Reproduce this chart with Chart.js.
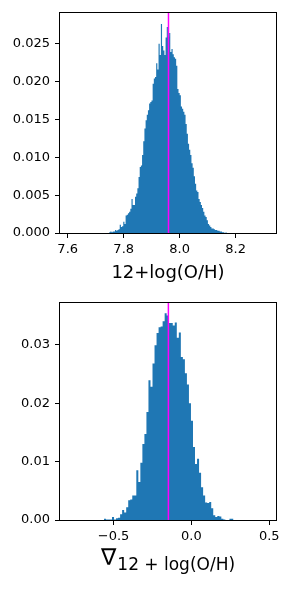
<!DOCTYPE html>
<html>
<head>
<meta charset="utf-8">
<script src="https://cdn.jsdelivr.net/npm/chart.js@4.4.0/dist/chart.umd.min.js"></script>
<style>
  html, body { margin: 0; padding: 0; background: #fff; }
  canvas { display: block; }
</style>
</head>
<body>
<canvas id="ohChart" width="290" height="290"></canvas>
<canvas id="gradChart" width="290" height="300"></canvas>
<script>
// top panel: 12+log(O/H), 100 bins
const ohBinStart = 7.748;
const ohBinWidth = 0.0042;
const ohDensity = [
  0.0001, 0.0002, 0.0001, 0.0002, 0.0002, 0.0004, 0.0003, 0.0004, 0.0005, 0.0011,
  0.0008, 0.0009, 0.0015, 0.0012, 0.0023, 0.0024, 0.0026, 0.0028, 0.0032, 0.0045,
  0.0037, 0.0037, 0.0048, 0.0052, 0.0059, 0.0074, 0.0087, 0.0089, 0.0103, 0.0121,
  0.0138, 0.0149, 0.0156, 0.0162, 0.0171, 0.0173, 0.0175, 0.0197, 0.0204, 0.0206,
  0.0224, 0.0216, 0.0250, 0.0235, 0.0276, 0.0247, 0.0241, 0.0235, 0.0258, 0.0272,
  0.0259, 0.0264, 0.0239, 0.0243, 0.0236, 0.0232, 0.0230, 0.0221, 0.0190, 0.0185,
  0.0182, 0.0167, 0.0164, 0.0160, 0.0156, 0.0144, 0.0131, 0.0118, 0.0110, 0.0103,
  0.0092, 0.0086, 0.0075, 0.0065, 0.0056, 0.0054, 0.0045, 0.0041, 0.0037, 0.0033,
  0.0028, 0.0023, 0.0021, 0.0017, 0.0012, 0.0010, 0.0008, 0.0006, 0.0006, 0.0005,
  0.0004, 0.0004, 0.0003, 0.0003, 0.0002, 0.0002, 0.0001, 0.0001, 0.0000, 0.0001
];
const ohMedian = 7.96;
const ohXTicks = [7.6, 7.8, 8.0, 8.2];
const ohYTicks = [0, 0.005, 0.01, 0.015, 0.02, 0.025];

// bottom panel: gradient
const gradBinStart = -0.562;
const gradBinWidth = 0.013;
const gradDensity = [
  0.0002, 0.0001, 0.0001, 0.0001, 0.0005, 0.0001, 0.0003, 0.0004, 0.0010, 0.0017,
  0.0013, 0.0022, 0.0034, 0.0035, 0.0042, 0.0042, 0.0085, 0.0065, 0.0098, 0.0130,
  0.0147, 0.0185, 0.0239, 0.0228, 0.0268, 0.0299, 0.0320, 0.0330, 0.0331, 0.0340,
  0.0354, 0.0350, 0.0337, 0.0337, 0.0333, 0.0338, 0.0312, 0.0321, 0.0279, 0.0275,
  0.0251, 0.0232, 0.0200, 0.0170, 0.0125, 0.0096, 0.0105, 0.0081, 0.0056, 0.0042,
  0.0030, 0.0029, 0.0031, 0.0020, 0.0008, 0.0005, 0.0007, 0.0006, 0.0002, 0.0001,
  0.0000, 0.0000, 0.0002, 0.0002
];
const gradMedian = -0.148;
const gradXTicks = [-0.5, 0, 0.5];
const gradYTicks = [0, 0.01, 0.02, 0.03];
const gradSymbol = '\u2207';
const gradSubscript = '12 + log(O/H)';

const tickFont = { family: 'DejaVu Sans', size: 13 };

// box around the axes like matplotlib spines
const frame = {
  id: 'frame',
  afterDatasetsDraw(chart) {
    const a = chart.chartArea, c = chart.ctx;
    c.save();
    c.strokeStyle = '#000';
    c.lineWidth = 1;
    c.strokeRect(Math.round(a.left) - 0.5, Math.round(a.top) - 0.5,
      Math.round(a.right - a.left) + 1, Math.round(a.bottom - a.top) + 1);
    c.restore();
  }
};

// nabla with subscript, drawn under the lower axis
const gradTitle = {
  id: 'gradTitle',
  afterDraw(chart) {
    const c = chart.ctx, a = chart.chartArea;
    c.save();
    c.fillStyle = '#000';
    c.textBaseline = 'alphabetic';
    c.font = '23px "DejaVu Sans"';
    const wN = c.measureText(gradSymbol).width;
    c.font = '17px "DejaVu Sans"';
    const wS = c.measureText(gradSubscript).width;
    const x0 = (a.left + a.right) / 2 - (wN + 1 + wS) / 2;
    c.font = '23px "DejaVu Sans"';
    c.fillText(gradSymbol, x0, a.bottom + 45);
    c.font = '17px "DejaVu Sans"';
    c.fillText(gradSubscript, x0 + wN + 1, a.bottom + 49.5);
    c.restore();
  }
};

function histogram(id, cfg) {
  // step outline: one point per bin centre, plus the two outer edges
  const n = cfg.density.length;
  const pts = [{ x: cfg.binStart, y: cfg.density[0] }];
  cfg.density.forEach((d, i) => pts.push({ x: cfg.binStart + (i + 0.5) * cfg.binWidth, y: d }));
  pts.push({ x: cfg.binStart + n * cfg.binWidth, y: cfg.density[n - 1] });

  return new Chart(document.getElementById(id), {
    type: 'line',
    data: {
      datasets: [
        {
          data: [{ x: cfg.median, y: 0 }, { x: cfg.median, y: cfg.yMax }],
          borderColor: '#ff00ff',
          borderWidth: 1.5,
          pointRadius: 0,
          fill: false,
          order: 0
        },
        {
          data: pts,
          stepped: 'middle',
          borderWidth: 0,
          borderColor: 'rgba(0,0,0,0)',
          backgroundColor: '#1f77b4',
          fill: 'origin',
          pointRadius: 0,
          order: 1
        }
      ]
    },
    options: {
      responsive: false,
      animation: false,
      layout: { padding: cfg.padding },
      plugins: { legend: { display: false }, tooltip: { enabled: false } },
      scales: {
        x: {
          type: 'linear',
          min: cfg.xMin,
          max: cfg.xMax,
          offset: false,
          border: { display: false },
          grid: { display: true, drawOnChartArea: false, drawTicks: true, tickLength: 5, color: '#000' },
          ticks: { font: tickFont, color: '#000', padding: 4, autoSkip: false, maxRotation: 0, callback: cfg.xFmt },
          title: cfg.xTitle,
          afterBuildTicks: s => { s.ticks = cfg.xTicks.map(v => ({ value: v })); },
          afterFit: s => { s.height = cfg.xAxisHeight; }
        },
        y: {
          min: 0,
          max: cfg.yMax,
          border: { display: false },
          grid: { display: true, drawOnChartArea: false, drawTicks: true, tickLength: 5, color: '#000' },
          ticks: { font: tickFont, color: '#000', padding: 5, autoSkip: false, callback: cfg.yFmt },
          afterBuildTicks: s => { s.ticks = cfg.yTicks.map(v => ({ value: v })); },
          afterFit: s => { s.width = 60; }
        }
      }
    },
    plugins: [frame].concat(cfg.extra || [])
  });
}

histogram('ohChart', {
  density: ohDensity, binStart: ohBinStart, binWidth: ohBinWidth, median: ohMedian,
  xMin: 7.5725, xMax: 8.344, yMax: 0.02905,
  xTicks: ohXTicks, yTicks: ohYTicks,
  xFmt: v => v.toFixed(1),
  yFmt: v => v.toFixed(3),
  padding: { top: 13, right: 14, left: 0, bottom: 0 },
  xAxisHeight: 57,
  xTitle: { display: true, text: '12+log(O/H)', color: '#000', font: { family: 'DejaVu Sans', size: 18 }, padding: { top: 0, bottom: 6 } }
});

histogram('gradChart', {
  density: gradDensity, binStart: gradBinStart, binWidth: gradBinWidth, median: gradMedian,
  xMin: -0.844, xMax: 0.543, yMax: 0.03717,
  xTicks: gradXTicks, yTicks: gradYTicks,
  xFmt: v => (v < 0 ? '\u2212' : '') + Math.abs(v).toFixed(1),
  yFmt: v => v.toFixed(2),
  padding: { top: 10, right: 14, left: 0, bottom: 0 },
  xAxisHeight: 70,
  xTitle: { display: false },
  extra: [gradTitle]
});
</script>
</body>
</html>
